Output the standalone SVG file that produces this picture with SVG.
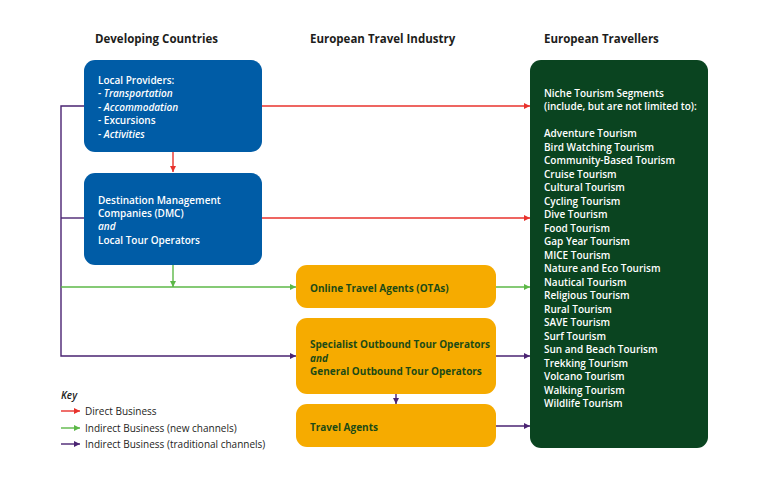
<svg xmlns="http://www.w3.org/2000/svg" width="768" height="484" viewBox="0 0 768 484">
<defs>
<marker id="ar" viewBox="0 0 10 10" refX="10" refY="5" markerWidth="7" markerHeight="6" markerUnits="userSpaceOnUse" orient="auto"><path d="M0,0 L10,5 L0,10 z" fill="#e8322c"/></marker>
<marker id="ag" viewBox="0 0 10 10" refX="10" refY="5" markerWidth="7" markerHeight="6" markerUnits="userSpaceOnUse" orient="auto"><path d="M0,0 L10,5 L0,10 z" fill="#5cb847"/></marker>
<marker id="ap" viewBox="0 0 10 10" refX="10" refY="5" markerWidth="7" markerHeight="6" markerUnits="userSpaceOnUse" orient="auto"><path d="M0,0 L10,5 L0,10 z" fill="#4a2372"/></marker>
</defs>
<style>
text{font-family:"Open Sans","Noto Sans","Liberation Sans",sans-serif;}
.h{font-size:11.5px;font-weight:700;fill:#1d1d1b;}
.blue{fill:#005ca6;}
.orange{fill:#f6ab00;}
.dg{fill:#0a4420;}
.wt{font-size:10px;font-weight:600;fill:#ffffff;}
.ot{font-size:10px;font-weight:700;fill:#1c4a16;}
.it{font-style:italic;}
.r{stroke:#e8322c;stroke-width:1.4;fill:none;}
.g{stroke:#5cb847;stroke-width:1.4;fill:none;}
.p{stroke:#4a2372;stroke-width:1.4;fill:none;}
.k{font-size:10px;fill:#1d1d1b;}
</style>
<rect width="768" height="484" fill="#ffffff"/>
<text class="h" x="95" y="43">Developing Countries</text>
<text class="h" x="310" y="43">European Travel Industry</text>
<text class="h" x="544" y="43">European Travellers</text>

<g id="connectors">
<path class="r" d="M262,106 H530" marker-end="url(#ar)"/>
<path class="r" d="M262,218 H530" marker-end="url(#ar)"/>
<path class="r" d="M173,152 V172" marker-end="url(#ar)"/>
<path class="p" d="M84,106 H61 V356 H296" marker-end="url(#ap)"/>
<path class="p" d="M84,218 H61"/>
<path class="g" d="M61,287 H296" marker-end="url(#ag)"/>
<path class="g" d="M173,265 V287" marker-end="url(#ag)"/>
<path class="g" d="M496,287 H530" marker-end="url(#ag)"/>
<path class="p" d="M496,356 H530" marker-end="url(#ap)"/>
<path class="p" d="M496,426 H530" marker-end="url(#ap)"/>
<path class="p" d="M396,394 V404" marker-end="url(#ap)"/>
</g>

<g id="local-providers">
<rect class="blue" x="84" y="60" width="178" height="92" rx="11"/>
<text class="wt" x="98" y="84">Local Providers:</text>
<text class="wt" x="98" y="97">- <tspan class="it">Transportation</tspan></text>
<text class="wt" x="98" y="111">- <tspan class="it">Accommodation</tspan></text>
<text class="wt" x="98" y="124">- Excursions</text>
<text class="wt" x="98" y="138">- <tspan class="it">Activities</tspan></text>
</g>

<g id="dmc">
<rect class="blue" x="84" y="173" width="178" height="92" rx="11"/>
<text class="wt" x="98" y="204">Destination Management</text>
<text class="wt" x="98" y="217">Companies (DMC)</text>
<text class="wt it" x="98" y="230">and</text>
<text class="wt" x="98" y="244">Local Tour Operators</text>
</g>

<g id="otas">
<rect class="orange" x="296" y="265" width="200" height="43" rx="11"/>
<text class="ot" x="310" y="292">Online Travel Agents (OTAs)</text>
</g>

<g id="tour-operators">
<rect class="orange" x="296" y="318" width="200" height="76" rx="11"/>
<text class="ot" x="310" y="348">Specialist Outbound Tour Operators</text>
<text class="ot it" x="310" y="362" font-weight="600">and</text>
<text class="ot" x="310" y="375">General Outbound Tour Operators</text>
</g>

<g id="travel-agents">
<rect class="orange" x="296" y="404" width="200" height="43" rx="11"/>
<text class="ot" x="310" y="431">Travel Agents</text>
</g>

<g id="travellers">
<rect class="dg" x="530" y="60" width="178" height="388" rx="11"/>
<text class="wt" x="544" y="97">Niche Tourism Segments</text>
<text class="wt" x="544" y="110">(include, but are not limited to):</text>
<text class="wt" x="544" y="137">Adventure Tourism</text>
<text class="wt" x="544" y="150.5">Bird Watching Tourism</text>
<text class="wt" x="544" y="164">Community-Based Tourism</text>
<text class="wt" x="544" y="177.5">Cruise Tourism</text>
<text class="wt" x="544" y="191">Cultural Tourism</text>
<text class="wt" x="544" y="204.5">Cycling Tourism</text>
<text class="wt" x="544" y="218">Dive Tourism</text>
<text class="wt" x="544" y="231.5">Food Tourism</text>
<text class="wt" x="544" y="245">Gap Year Tourism</text>
<text class="wt" x="544" y="258.5">MICE Tourism</text>
<text class="wt" x="544" y="272">Nature and Eco Tourism</text>
<text class="wt" x="544" y="285.5">Nautical Tourism</text>
<text class="wt" x="544" y="299">Religious Tourism</text>
<text class="wt" x="544" y="312.5">Rural Tourism</text>
<text class="wt" x="544" y="326">SAVE Tourism</text>
<text class="wt" x="544" y="339.5">Surf Tourism</text>
<text class="wt" x="544" y="353">Sun and Beach Tourism</text>
<text class="wt" x="544" y="366.5">Trekking Tourism</text>
<text class="wt" x="544" y="380">Volcano Tourism</text>
<text class="wt" x="544" y="393.5">Walking Tourism</text>
<text class="wt" x="544" y="407">Wildlife Tourism</text>
</g>

<g id="key">
<text class="k it" x="61" y="399" font-weight="600">Key</text>
<path class="r" d="M61,411 H80" marker-end="url(#ar)"/>
<text class="k" x="85" y="415">Direct Business</text>
<path class="g" d="M61,428 H80" marker-end="url(#ag)"/>
<text class="k" x="85" y="432">Indirect Business (new channels)</text>
<path class="p" d="M61,444 H80" marker-end="url(#ap)"/>
<text class="k" x="85" y="448">Indirect Business (traditional channels)</text>
</g>
</svg>
